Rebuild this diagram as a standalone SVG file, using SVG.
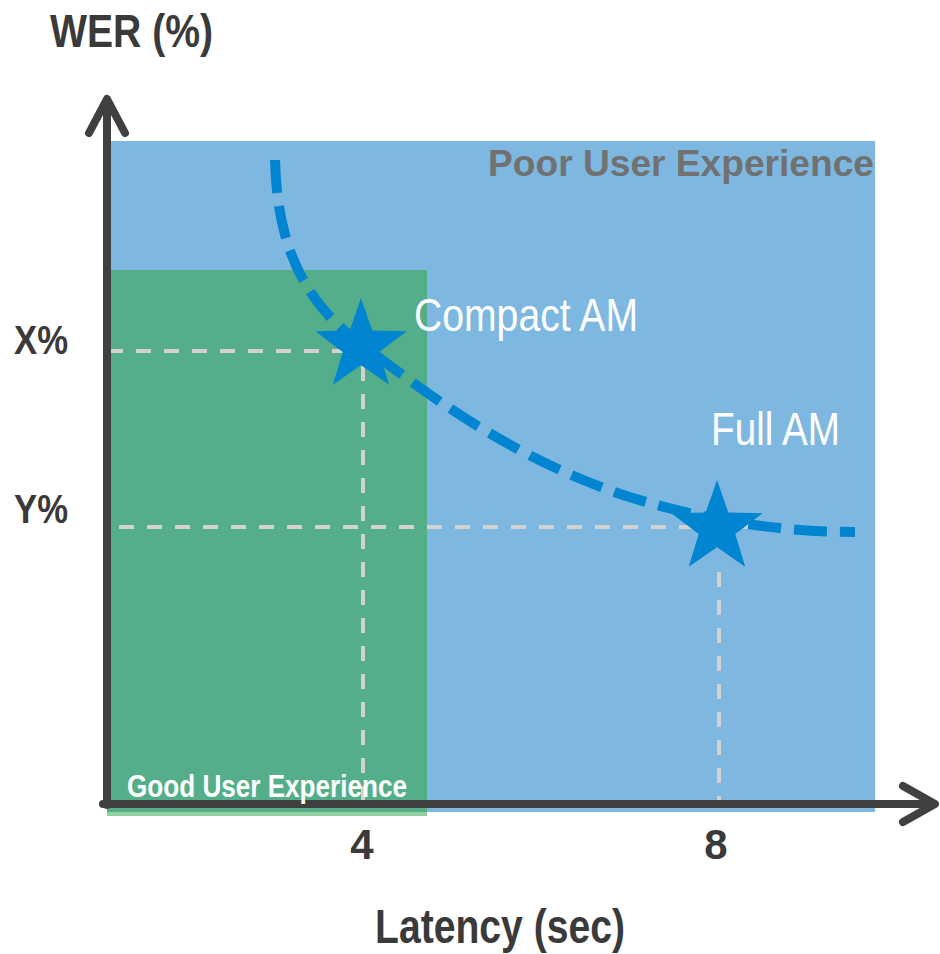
<svg xmlns="http://www.w3.org/2000/svg" width="940" height="954" viewBox="0 0 940 954">
  <style>
    .lbl { font-family: "Liberation Sans", Arial, sans-serif; font-weight: bold; fill: #3a3a3a; }
    .wht { font-family: "Liberation Sans", Arial, sans-serif; fill: #ffffff; }
    .guide { stroke: #d2d2d2; stroke-width: 4; fill: none; stroke-dasharray: 15 13; }
    .axis { stroke: #404040; stroke-width: 8; fill: none; stroke-linecap: round; stroke-linejoin: round; }
    .star { fill: #0285d0; }
  </style>
  <rect width="940" height="954" fill="#ffffff"/>

  <g id="poor-region">
    <rect x="110" y="141" width="765" height="671" fill="#7eb8e0"/>
    <text class="lbl" x="488" y="176" font-size="37" textLength="386" lengthAdjust="spacingAndGlyphs" style="fill:#717171">Poor User Experience</text>
  </g>

  <g id="good-region">
    <rect x="107" y="270" width="320" height="542" fill="#54ae8a"/>
    <rect x="107" y="812" width="320" height="4" fill="#90d09c"/>
  </g>

  <g id="connectors">
    <line class="guide" x1="108" y1="351" x2="350" y2="351"/>
    <line class="guide" x1="363" y1="366" x2="363" y2="800"/>
    <line class="guide" x1="119" y1="527" x2="780" y2="527"/>
    <line class="guide" x1="719" y1="572" x2="719" y2="800"/>
    <path d="M275,160 C277,240 300,300 362,345 C420,388 500,452 620,494 C700,520 780,532 855,532" fill="none" stroke="#0285d0" stroke-width="10" stroke-dasharray="33 13"/>
  </g>

  <g id="axes">
    <line class="axis" x1="107" y1="805" x2="107" y2="100"/>
    <polyline class="axis" points="89,133 107,99 125,133"/>
    <line class="axis" x1="103" y1="804" x2="933" y2="804"/>
    <polyline class="axis" points="903,786 935,804 903,822"/>
  </g>

  <g id="compact-am">
    <polygon class="star" points="361,298 372.3,330.5 406.7,331.2 379.3,352 389.2,384.8 361,365.2 332.8,384.8 342.7,352 315.3,331.2 349.7,330.5"/>
    <text class="wht" x="414" y="331" font-size="46" textLength="224" lengthAdjust="spacingAndGlyphs">Compact AM</text>
  </g>

  <g id="full-am">
    <polygon class="star" points="717,480 728.3,512.5 762.7,513.2 735.3,534 745.2,566.8 717,547.2 688.8,566.8 698.7,534 671.3,513.2 705.7,512.5"/>
    <text class="wht" x="711" y="445" font-size="46" textLength="129" lengthAdjust="spacingAndGlyphs">Full AM</text>
  </g>

  <g id="labels">
    <text class="lbl" x="50" y="47" font-size="46" textLength="163" lengthAdjust="spacingAndGlyphs">WER (%)</text>
    <text class="lbl" x="14" y="354" font-size="41" textLength="54" lengthAdjust="spacingAndGlyphs">X%</text>
    <text class="lbl" x="14" y="523" font-size="41" textLength="54" lengthAdjust="spacingAndGlyphs">Y%</text>
    <text class="lbl" x="362" y="859" font-size="42" text-anchor="middle">4</text>
    <text class="lbl" x="716" y="859" font-size="42" text-anchor="middle">8</text>
    <text class="lbl" x="375" y="943" font-size="48" textLength="250" lengthAdjust="spacingAndGlyphs">Latency (sec)</text>
    <text class="wht" x="127" y="797" font-size="32" font-weight="bold" textLength="280" lengthAdjust="spacingAndGlyphs">Good User Experience</text>
  </g>
</svg>
